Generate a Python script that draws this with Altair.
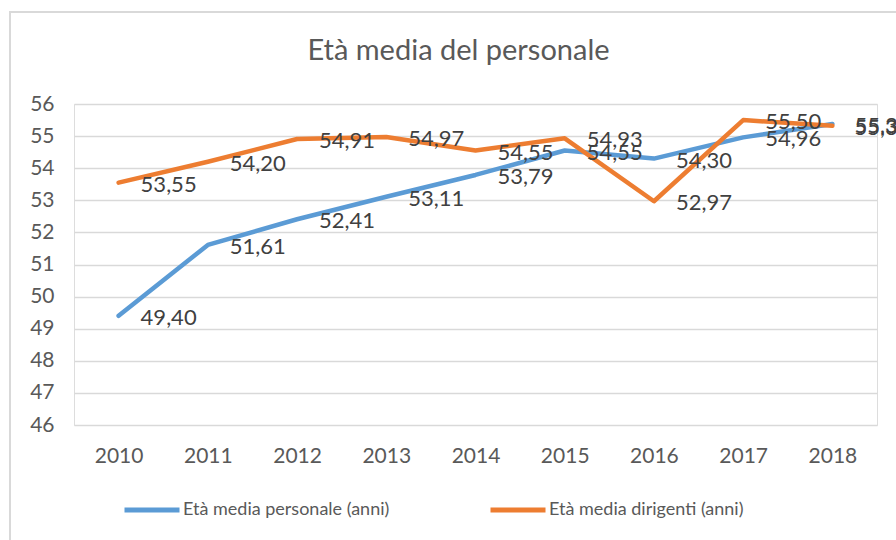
import altair as alt
import pandas as pd

years = ["2010", "2011", "2012", "2013", "2014", "2015", "2016", "2017", "2018"]
personale = [49.40, 51.61, 52.41, 53.11, 53.79, 54.55, 54.30, 54.96, 55.38]
dirigenti = [53.55, 54.20, 54.91, 54.97, 54.55, 54.93, 52.97, 55.50, 55.32]
series_names = ["Età media personale (anni)", "Età media dirigenti (anni)"]
series_colors = ["#5B9BD5", "#ED7D31"]
y_ticks = list(range(46, 57))

rows = []
for name, vals in zip(series_names, [personale, dirigenti]):
    for y, v in zip(years, vals):
        rows.append({"anno": y, "valore": v, "serie": name,
                     "etichetta": f"{v:.2f}".replace(".", ",")})
df = pd.DataFrame(rows)

FONT = "Lato"
W, H = 803, 321

x_enc = alt.X("anno:N", scale=alt.Scale(type="point", padding=0.5), sort=years,
              axis=alt.Axis(title=None, labelAngle=0, domain=False, ticks=False, grid=False,
                            labelFontSize=21, labelColor="#595959", labelFont=FONT,
                            labelPadding=20))
y_enc = alt.Y("valore:Q", scale=alt.Scale(domain=[46, 56], nice=False, zero=False),
              axis=alt.Axis(title=None, values=y_ticks, domain=False, ticks=False,
                            grid=True, gridColor="#D9D9D9", gridWidth=1.5,
                            labelFontSize=21, labelColor="#595959", labelFont=FONT,
                            labelPadding=20, format="d"))
color_enc = alt.Color("serie:N", scale=alt.Scale(domain=series_names, range=series_colors),
                      legend=alt.Legend(title=None, orient="none", direction="horizontal",
                                        legendX=48, legendY=376, symbolType="stroke",
                                        symbolSize=3025, symbolStrokeWidth=5,
                                        labelFontSize=18, labelFont=FONT, labelColor="#595959",
                                        labelOffset=1, columnPadding=90, labelLimit=0))

base = alt.Chart(df)

border = alt.Chart(pd.DataFrame({"k": [0]})).mark_rect(
    fill=None, stroke="#D9D9D9", strokeWidth=2
).encode(x=alt.value(-64), x2=alt.value(900 - 74), y=alt.value(-92), y2=alt.value(560 - 104))

line_blue = base.transform_filter(alt.datum.serie == series_names[0]).mark_line(
    strokeWidth=4.5, strokeCap="round", strokeJoin="round"
).encode(x=x_enc, y=y_enc, color=color_enc)
line_orange = base.transform_filter(alt.datum.serie == series_names[1]).mark_line(
    strokeWidth=4.5, strokeCap="round", strokeJoin="round"
).encode(x=x_enc, y=y_enc, color=color_enc)

labels = base.mark_text(align="left", baseline="middle", dx=22, dy=2, fontSize=22,
                        font=FONT, color="#404040").encode(
    x=x_enc, y=y_enc, text="etichetta:N")

chart = alt.layer(border, line_blue, line_orange, labels).properties(
    width=W, height=H,
    title=alt.TitleParams("Età media del personale", fontSize=29, font=FONT,
                          fontWeight="normal", color="#595959", anchor="middle",
                          dx=-17, offset=-55),
    autosize=alt.AutoSizeParams(type="none"),
    padding={"left": 74, "top": 104, "right": 19, "bottom": 115},
).configure_view(stroke=None).configure(background="white")

chart.save("out.html", embed_options={"renderer": "svg", "actions": False})
